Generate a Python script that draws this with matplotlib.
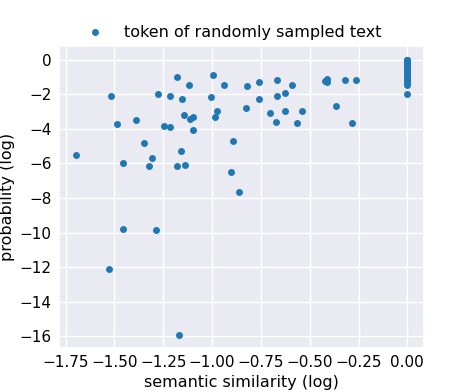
import matplotlib
matplotlib.use("Agg")
import matplotlib.pyplot as plt
import seaborn as sns

sns.set_theme(style="darkgrid")
plt.rcParams.update({
    "text.color": "black",
    "axes.labelcolor": "black",
    "xtick.color": "black",
    "ytick.color": "black",
    "xtick.major.size": 0,
    "ytick.major.size": 0,
    "xtick.major.pad": 5.0,
    "ytick.major.pad": 5.5,
    "font.family": ["DejaVu Sans"],
})

sim_scatter = [-1.697, -1.519, -1.486, -1.456, -1.391, -1.350, -1.308, -1.321, -1.279,
               -1.248, -1.216, -1.216, -1.180, -1.155, -1.158, -1.179, -1.136, -1.146,
               -1.117, -1.112, -1.100, -1.095, -1.005, -0.993, -0.939, -0.973, -0.983,
               -0.891, -0.905, -0.862, -0.823, -0.828, -0.757, -0.760, -0.667, -0.667,
               -0.628, -0.588, -0.704, -0.673, -0.628, -0.565, -0.537, -0.420, -0.412,
               -0.412, -0.364, -0.320, -0.265, -0.284, -1.454, -1.289, -1.529, -1.168]
prob_scatter = [-5.54, -2.13, -3.72, -5.95, -3.49, -4.81, -5.70, -6.16, -2.00,
                -3.82, -3.88, -2.13, -1.03, -2.27, -5.27, -6.18, -6.09, -3.18,
                -1.49, -3.43, -3.31, -4.05, -2.19, -0.89, -1.49, -2.97, -3.29,
                -4.73, -6.49, -7.64, -1.55, -2.81, -1.30, -2.25, -1.20, -2.13,
                -1.94, -1.49, -3.10, -3.60, -2.95, -3.64, -2.97, -1.26, -1.10,
                -1.32, -2.66, -1.18, -1.18, -3.68, -9.77, -9.83, -12.13, -15.91]

prob_exact = [0.0, -0.02, -0.05, -0.08, -0.10, -0.14, -0.18, -0.22, -0.27, -0.33,
              -0.40, -0.48, -0.56, -0.65, -0.75, -0.86, -0.98, -1.10, -1.22, -1.35,
              -1.49, -1.98]
sim_exact = [0.0] * len(prob_exact)

sims = sim_scatter + sim_exact
probs = prob_scatter + prob_exact

fig = plt.figure(figsize=(4.71, 3.92), dpi=100)
ax = fig.add_axes([0.126, 0.111, 0.774, 0.772])
ax.scatter(sims, probs, s=25, color="#1f77b4", linewidths=0,
           label="token of randomly sampled text")
ax.set_xlabel("semantic similarity (log)", fontsize=11.5, labelpad=3)
ax.set_ylabel("probability (log)", fontsize=11.5, labelpad=3)
ax.set_xticks([-1.75, -1.5, -1.25, -1.0, -0.75, -0.5, -0.25, 0.0])
ax.set_xticklabels(["\u22121.75", "\u22121.50", "\u22121.25", "\u22121.00",
                    "\u22120.75", "\u22120.50", "\u22120.25", "0.00"])
ax.set_yticks(range(-16, 1, 2))
ax.tick_params(labelsize=11)
fig.legend(loc="center", bbox_to_anchor=(0.489, 0.918), frameon=False, fontsize=11.5)
fig.savefig("out.png", dpi=100)
